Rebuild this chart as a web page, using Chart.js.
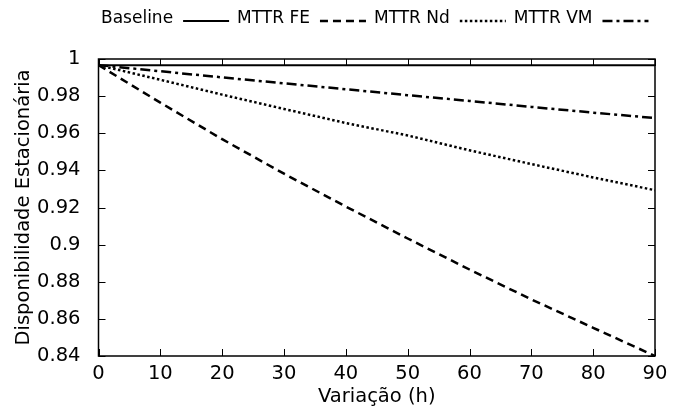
<!DOCTYPE html>
<html>
<head>
<meta charset="utf-8">
<script src="https://cdn.jsdelivr.net/npm/chart.js@4"></script>
<style>
  html, body { margin: 0; padding: 0; background: #fff; }
  #wrap { width: 674px; height: 412px; position: relative; }
</style>
</head>
<body>
<div id="wrap"><canvas id="grafico"></canvas></div>
<script>
// valores
const variacao = [0, 10, 20, 30, 40, 50, 60, 70, 80, 90];
const baseline = [0.9967, 0.9967, 0.9967, 0.9967, 0.9967, 0.9967, 0.9967, 0.9967, 0.9967, 0.9967];
const mttrFE   = [0.9967, 0.9765, 0.9568, 0.9382, 0.9205, 0.9033, 0.8866, 0.8705, 0.8552, 0.8400];
const mttrNd   = [0.9967, 0.9888, 0.9808, 0.9731, 0.9655, 0.9588, 0.9508, 0.9434, 0.9362, 0.9293];
const mttrVM   = [0.9967, 0.9934, 0.9901, 0.9869, 0.9837, 0.9805, 0.9774, 0.9742, 0.9711, 0.9682];
const nomes    = ['Baseline', 'MTTR FE', 'MTTR Nd', 'MTTR VM'];
const tracos   = [[], [8, 5], [2.5, 2.5], [10, 4, 3, 4]];

Chart.defaults.font.family = "'DejaVu Sans', sans-serif";
Chart.defaults.color = '#000';

function pontos(serie) {
    return variacao.map((x, i) => ({ x: x, y: serie[i] }));
}

const series = [baseline, mttrFE, mttrNd, mttrVM];
const datasets = series.map((s, i) => ({
    label: nomes[i],
    data: pontos(s),
    borderColor: '#000',
    borderWidth: i == 0 ? 2 : 2.5,
    borderDash: tracos[i],
    pointRadius: 0,
    tension: 0,
    fill: false
}));

// moldura, marcas internas e legenda no estilo gnuplot
const estiloGnuplot = {
    id: 'estiloGnuplot',
    afterDraw(chart) {
        const ctx = chart.ctx;
        const a = chart.chartArea;
        const sx = chart.scales.x, sy = chart.scales.y;
        const tam = 7;
        ctx.save();
        ctx.strokeStyle = '#000';
        ctx.lineWidth = 1.5;
        ctx.setLineDash([]);
        ctx.strokeRect(a.left, a.top, a.right - a.left, a.bottom - a.top);
        ctx.lineWidth = 1;
        ctx.beginPath();
        sx.ticks.forEach(t => {
            const px = Math.round(sx.getPixelForValue(t.value)) + 0.5;
            ctx.moveTo(px, a.bottom); ctx.lineTo(px, a.bottom - tam);
            ctx.moveTo(px, a.top); ctx.lineTo(px, a.top + tam);
        });
        sy.ticks.forEach(t => {
            const py = Math.round(sy.getPixelForValue(t.value)) + 0.5;
            ctx.moveTo(a.left, py); ctx.lineTo(a.left + tam, py);
            ctx.moveTo(a.right, py); ctx.lineTo(a.right - tam, py);
        });
        ctx.stroke();

        // legenda: texto seguido da amostra de linha
        ctx.font = "17px 'DejaVu Sans'";
        ctx.fillStyle = '#000';
        ctx.textBaseline = 'middle';
        const amostra = 46, gap1 = 10, gap2 = 8;
        let total = 0;
        chart.data.datasets.forEach((d, i) => {
            total += ctx.measureText(d.label).width + gap1 + amostra + (i < 3 ? gap2 : 0);
        });
        let x = (a.left + a.right) / 2 - total / 2 - 2;
        const yTxt = 19, yLin = 21;
        chart.data.datasets.forEach(d => {
            ctx.fillText(d.label, x, yTxt);
            x += ctx.measureText(d.label).width + gap1;
            ctx.lineWidth = d.borderWidth;
            ctx.setLineDash(d.borderDash);
            ctx.beginPath();
            ctx.moveTo(x, yLin);
            ctx.lineTo(x + amostra, yLin);
            ctx.stroke();
            ctx.setLineDash([]);
            x += amostra + gap2;
        });
        ctx.restore();
    }
};

new Chart(document.getElementById('grafico'), {
    type: 'line',
    data: { datasets: datasets },
    options: {
        responsive: true,
        maintainAspectRatio: false,
        animation: false,
        layout: { padding: { top: 59, right: 19, bottom: 0, left: 0 } },
        plugins: { legend: { display: false }, tooltip: { enabled: false } },
        scales: {
            x: {
                type: 'linear',
                min: 0,
                max: 90,
                grid: { display: false },
                border: { display: false },
                ticks: { stepSize: 10, padding: -2, font: { size: 19.5 }, maxRotation: 0 },
                title: { display: true, text: 'Variação (h)', font: { size: 19.5 }, padding: { top: 0, bottom: 3 } },
                afterFit(s) { s.height = 56; }
            },
            y: {
                min: 0.84,
                max: 1,
                grid: { display: false },
                border: { display: false },
                ticks: {
                    stepSize: 0.02,
                    padding: 10,
                    font: { size: 19.5 },
                    callback: v => String(+v.toFixed(2))
                },
                title: { display: true, text: 'Disponibilidade Estacionária', font: { size: 19.5 }, padding: { top: 12, bottom: 0 } },
                afterFit(s) { s.width = 98.5; }
            }
        }
    },
    plugins: [estiloGnuplot]
});
</script>
</body>
</html>
